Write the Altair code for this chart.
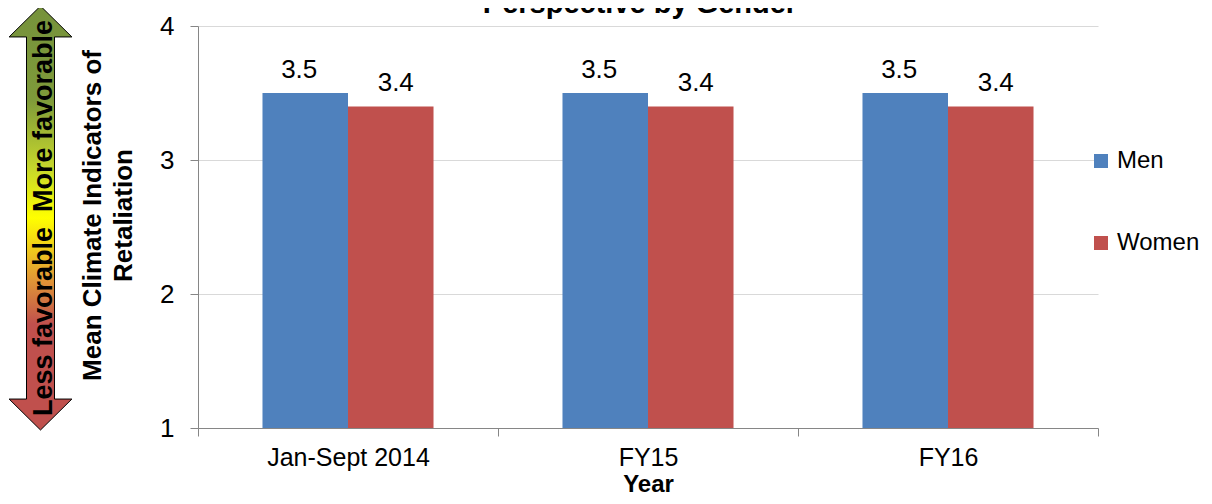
import altair as alt
import pandas as pd

categories = ["Jan-Sept 2014", "FY15", "FY16"]
men = [3.5, 3.5, 3.5]
women = [3.4, 3.4, 3.4]
series = ["Men", "Women"]
colors = ["#4F81BD", "#C0504D"]
y_ticks = [1, 2, 3, 4]

rows = []
for c, m, w in zip(categories, men, women):
    rows.append({"Year": c, "Gender": "Men", "value": m})
    rows.append({"Year": c, "Gender": "Women", "value": w})
df = pd.DataFrame(rows)

FONT = "Liberation Sans"
FS = 26

x_enc = alt.X(
    "Year:N",
    sort=categories,
    scale=alt.Scale(paddingInner=0, paddingOuter=0),
    axis=alt.Axis(
        title="Year",
        titleFontSize=24,
        titleFontWeight="bold",
        titleColor="black",
        titleY=63,
        titleBaseline="alphabetic",
        labelAngle=0,
        labelFontSize=25,
        labelColor="black",
        labelPadding=9,
        tickBand="extent",
        tickSize=8,
        tickColor="#868686",
        domainColor="#868686",
        grid=False,
    ),
)
y_enc = alt.Y(
    "value:Q",
    scale=alt.Scale(domain=[1, 4], zero=False, nice=False),
    axis=alt.Axis(
        values=y_ticks,
        format="d",
        title=["Mean Climate Indicators of", "Retaliation"],
        titleFontSize=26,
        titleFontWeight="bold",
        titleColor="black",
        titleLineHeight=31,
        titleAngle=270,
        titleBaseline="alphabetic",
        titleAlign="center",
        titleX=-98,
        titleY=189,
        labelFontSize=FS,
        labelColor="black",
        labelPadding=16,
        tickSize=8,
        tickColor="#868686",
        domainColor="#868686",
        grid=True,
        gridColor="#D9D9D9",
    ),
)
xoff = alt.XOffset("Gender:N", sort=series, scale=alt.Scale(paddingInner=0, paddingOuter=0.754))

base = alt.Chart(df)
bars = base.mark_bar().encode(
    x=x_enc,
    xOffset=xoff,
    y=y_enc,
    y2=alt.datum(1),
    color=alt.Color(
        "Gender:N",
        sort=series,
        scale=alt.Scale(domain=series, range=colors),
        legend=alt.Legend(
            title=None,
            orient="none",
            legendX=891,
            legendY=123,
            symbolType="square",
            symbolSize=196,
            symbolStrokeWidth=0,
            labelFontSize=24,
            labelColor="black",
            labelOffset=4,
            rowPadding=58,
            padding=0,
        ),
    ),
)
labels_men = base.transform_filter(alt.datum.Gender == "Men").mark_text(
    fontSize=FS, baseline="alphabetic", dy=-15, dx=-6, color="black"
).encode(x=alt.X("Year:N", sort=categories), xOffset=xoff, y="value:Q", text=alt.Text("value:Q", format=".1f"))
labels_women = base.transform_filter(alt.datum.Gender == "Women").mark_text(
    fontSize=FS, baseline="alphabetic", dy=-15, dx=5, color="black"
).encode(x=alt.X("Year:N", sort=categories), xOffset=xoff, y="value:Q", text=alt.Text("value:Q", format=".1f"))

one = pd.DataFrame({"k": [0]})
arrow_path = (
    "M0,-1 L0.148,-0.854 L0.066,-0.854 L0.066,0.854 L0.148,0.854 L0,1 "
    "L-0.148,0.854 L-0.066,0.854 L-0.066,-0.854 L-0.148,-0.854 Z"
)
gradient = {
    "gradient": "linear",
    "x1": 0, "y1": 0, "x2": 0, "y2": 1,
    "stops": [
        {"offset": 0.0, "color": "#76923C"},
        {"offset": 0.22, "color": "#7E9A3A"},
        {"offset": 0.38, "color": "#C5D62C"},
        {"offset": 0.5, "color": "#FFFF00"},
        {"offset": 0.64, "color": "#E39A35"},
        {"offset": 0.75, "color": "#C0504D"},
        {"offset": 1.0, "color": "#C0504D"},
    ],
}
arrow = alt.Chart(one).mark_point(
    shape=arrow_path,
    filled=True,
    fill=gradient,
    stroke="black",
    strokeWidth=1,
    opacity=1,
    size=424 * 424,
).encode(x=alt.value(-157.5), y=alt.value(192))
arrow_text = alt.Chart(one).mark_text(
    text="Less favorable\u00a0\u00a0More favorable",
    angle=270,
    fontSize=27,
    fontWeight="bold",
    baseline="alphabetic",
    align="center",
    color="black",
).encode(x=alt.value(-146), y=alt.value(192))

title_text = alt.Chart(one).mark_text(
    text="Perspective by Gender",
    fontSize=29,
    fontWeight="bold",
    baseline="alphabetic",
    align="center",
    color="black",
).encode(x=alt.value(442), y=alt.value(-13))

chart = (
    alt.layer(bars, labels_men, labels_women, arrow, arrow_text, title_text)
    .properties(
        width=900,
        height=402,
        autosize=alt.AutoSizeParams(type="none"),
        padding={"left": 190, "top": 18, "right": 106, "bottom": 68},
    )
    .configure(font=FONT)
    .configure_view(stroke=None)
)

chart.save("out.html", embed_options={"renderer": "svg", "actions": False})
